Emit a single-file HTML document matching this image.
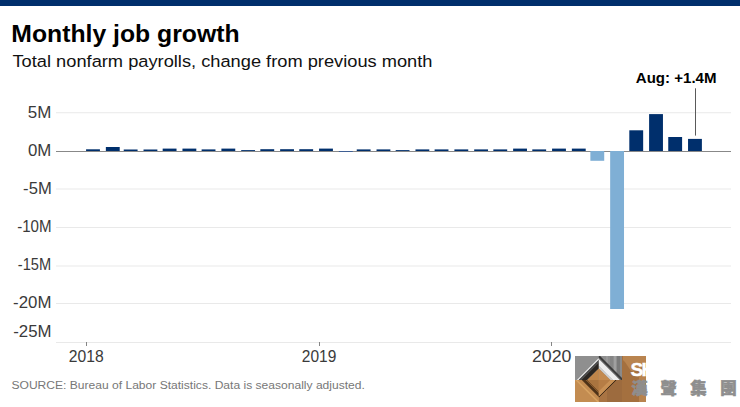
<!DOCTYPE html>
<html><head><meta charset="utf-8"><style>
html,body{margin:0;padding:0;background:#fff;}
body{width:740px;height:407px;overflow:hidden;position:relative;}
svg{position:absolute;left:0;top:0;}
.ax{font-family:"Liberation Sans",Arial,sans-serif;font-size:15.6px;fill:#3a3a3a;}
.ttl{font-family:"Liberation Sans",Arial,sans-serif;font-weight:bold;font-size:24px;fill:#000;}
.sub{font-family:"Liberation Sans",Arial,sans-serif;font-size:17.4px;fill:#111;}
.src{font-family:"Liberation Sans",Arial,sans-serif;font-size:11.7px;fill:#777;}
.ann{font-family:"Liberation Sans",Arial,sans-serif;font-weight:bold;font-size:14.2px;fill:#000;}
.cn{font-family:"Liberation Sans","Noto Sans CJK TC",sans-serif;font-weight:900;font-size:16.4px;fill:#8e8e8e;stroke:#8e8e8e;stroke-width:0.6px;}
</style></head><body>
<svg width="740" height="407" viewBox="0 0 740 407">
<rect x="0" y="0" width="740" height="6" fill="#002f6c"/>
<line x1="56" x2="731" y1="112.75" y2="112.75" stroke="#e9e9e9" stroke-width="1"/>
<line x1="56" x2="731" y1="189.0" y2="189.0" stroke="#e9e9e9" stroke-width="1"/>
<line x1="56" x2="731" y1="227.5" y2="227.5" stroke="#e9e9e9" stroke-width="1"/>
<line x1="56" x2="731" y1="266.0" y2="266.0" stroke="#e9e9e9" stroke-width="1"/>
<line x1="56" x2="731" y1="303.5" y2="303.5" stroke="#e9e9e9" stroke-width="1"/>
<line x1="56" x2="731" y1="342.5" y2="342.5" stroke="#e9e9e9" stroke-width="1"/>
<line x1="56" x2="731" y1="151.5" y2="151.5" stroke="#888" stroke-width="1"/>
<rect x="86.07" y="149.30" width="13.85" height="1.70" fill="#002f6c"/>
<rect x="105.86" y="147.00" width="13.85" height="4.00" fill="#002f6c"/>
<rect x="123.73" y="149.50" width="13.85" height="1.50" fill="#002f6c"/>
<rect x="143.52" y="149.50" width="13.85" height="1.50" fill="#002f6c"/>
<rect x="162.67" y="148.60" width="13.85" height="2.40" fill="#002f6c"/>
<rect x="182.46" y="148.60" width="13.85" height="2.40" fill="#002f6c"/>
<rect x="201.61" y="149.40" width="13.85" height="1.60" fill="#002f6c"/>
<rect x="221.40" y="148.60" width="13.85" height="2.40" fill="#002f6c"/>
<rect x="241.19" y="150.10" width="13.85" height="0.90" fill="#002f6c"/>
<rect x="260.34" y="149.20" width="13.85" height="1.80" fill="#002f6c"/>
<rect x="280.13" y="149.20" width="13.85" height="1.80" fill="#002f6c"/>
<rect x="299.28" y="149.20" width="13.85" height="1.80" fill="#002f6c"/>
<rect x="319.07" y="148.60" width="13.85" height="2.40" fill="#002f6c"/>
<rect x="338.86" y="151" width="13.85" height="1" fill="#3f5f93"/>
<rect x="356.73" y="149.40" width="13.85" height="1.60" fill="#002f6c"/>
<rect x="376.52" y="149.40" width="13.85" height="1.60" fill="#002f6c"/>
<rect x="395.67" y="150.10" width="13.85" height="0.90" fill="#002f6c"/>
<rect x="415.46" y="149.40" width="13.85" height="1.60" fill="#002f6c"/>
<rect x="434.61" y="149.40" width="13.85" height="1.60" fill="#002f6c"/>
<rect x="454.40" y="149.40" width="13.85" height="1.60" fill="#002f6c"/>
<rect x="474.19" y="149.40" width="13.85" height="1.60" fill="#002f6c"/>
<rect x="493.34" y="149.40" width="13.85" height="1.60" fill="#002f6c"/>
<rect x="513.13" y="148.60" width="13.85" height="2.40" fill="#002f6c"/>
<rect x="532.28" y="149.40" width="13.85" height="1.60" fill="#002f6c"/>
<rect x="552.07" y="148.60" width="13.85" height="2.40" fill="#002f6c"/>
<rect x="571.86" y="148.60" width="13.85" height="2.40" fill="#002f6c"/>
<rect x="590.37" y="151.00" width="13.85" height="9.80" fill="#7fafd5"/>
<rect x="610.16" y="151.00" width="13.85" height="158.00" fill="#7fafd5"/>
<rect x="629.31" y="130.30" width="13.85" height="20.70" fill="#002f6c"/>
<rect x="649.10" y="114.10" width="13.85" height="36.90" fill="#002f6c"/>
<rect x="668.25" y="137.00" width="13.85" height="14.00" fill="#002f6c"/>
<rect x="688.04" y="138.90" width="13.85" height="12.10" fill="#002f6c"/>
<line x1="86.5" x2="86.5" y1="342" y2="346" stroke="#858585" stroke-width="1"/>
<line x1="319.5" x2="319.5" y1="342" y2="346" stroke="#858585" stroke-width="1"/>
<line x1="551.5" x2="551.5" y1="342" y2="346" stroke="#858585" stroke-width="1"/>
<line x1="695.5" x2="695.5" y1="88.3" y2="135.6" stroke="#5a5a5a" stroke-width="1"/>
<text id="title" x="11.30" y="41.80" class="ttl" textLength="228.25" lengthAdjust="spacingAndGlyphs">Monthly job growth</text>
<text id="sub" x="12.50" y="67.20" class="sub" textLength="419.98" lengthAdjust="spacingAndGlyphs">Total nonfarm payrolls, change from previous month</text>
<text id="ann" x="635.81" y="83.30" class="ann" textLength="80.70" lengthAdjust="spacingAndGlyphs">Aug: +1.4M</text>
<text id="src" x="11.48" y="389.10" class="src" textLength="353.39" lengthAdjust="spacingAndGlyphs">SOURCE: Bureau of Labor Statistics. Data is seasonally adjusted.</text>
<text id="y5" x="27.88" y="117.60" class="ax" textLength="23.56" lengthAdjust="spacingAndGlyphs">5M</text>
<text id="y0" x="27.93" y="156.20" class="ax" textLength="23.37" lengthAdjust="spacingAndGlyphs">0M</text>
<text id="ym5" x="23.13" y="193.80" class="ax" textLength="28.60" lengthAdjust="spacingAndGlyphs">-5M</text>
<text id="ym10" x="17.19" y="231.90" class="ax" textLength="34.38" lengthAdjust="spacingAndGlyphs">-10M</text>
<text id="ym15" x="17.83" y="270.40" class="ax" textLength="33.32" lengthAdjust="spacingAndGlyphs">-15M</text>
<text id="ym20" x="13.08" y="308.30" class="ax" textLength="38.31" lengthAdjust="spacingAndGlyphs">-20M</text>
<text id="ym25" x="13.23" y="336.50" class="ax" textLength="38.34" lengthAdjust="spacingAndGlyphs">-25M</text>
<text id="x2018" x="68.83" y="362.00" class="ax" textLength="34.90" lengthAdjust="spacingAndGlyphs">2018</text>
<text id="x2019" x="301.85" y="362.00" class="ax" textLength="34.46" lengthAdjust="spacingAndGlyphs">2019</text>
<text id="x2020" x="531.92" y="362.00" class="ax" textLength="39.56" lengthAdjust="spacingAndGlyphs">2020</text>
<svg id="logo" x="575" y="356" width="71" height="46" viewBox="575 356 71 46" overflow="hidden">
<rect x="575" y="356" width="71" height="46" fill="#a4703f"/>
<polygon points="623,356 646,356 646,363 638,371 631,371 625,362 623,360" fill="#b9844f"/>
<rect x="639" y="375" width="7" height="27" fill="#b8834e"/>
<rect x="575" y="356" width="47" height="24" fill="#8f8f8f"/>
<rect x="606" y="356" width="2" height="24" fill="#9a9a9a"/>
<rect x="610" y="356" width="3" height="24" fill="#858585"/>
<rect x="614" y="356" width="2" height="24" fill="#a0a0a0"/>
<rect x="617" y="356" width="3" height="24" fill="#7a7a7a"/>
<rect x="620" y="356" width="2" height="24" fill="#8a8a8a"/>
<rect x="575" y="380" width="47" height="22" fill="#c38c51"/>
<rect x="599" y="380" width="23" height="22" fill="#a97443"/>
<rect x="607" y="380" width="15" height="22" fill="#9d6b3e"/>
<clipPath id="dclip"><rect x="575" y="356" width="47" height="46"/></clipPath><g clip-path="url(#dclip)">
<polygon points="576.90,380.00 598.80,358.10 598.80,359.80 578.60,380.00" fill="#f2f2f2"/>
<polygon points="578.60,380.00 598.80,359.80 598.80,362.50 581.30,380.00" fill="#4a4a4a"/>
<polygon points="581.30,380.00 598.80,362.50 598.80,368.40 587.20,380.00" fill="#2a2622"/>
<polygon points="624.10,380.00 598.80,354.70 598.80,357.50 621.30,380.00" fill="#3a3a3a"/>
<polygon points="621.30,380.00 598.80,357.50 598.80,359.00 619.80,380.00" fill="#5c5c5c"/>
<polygon points="619.80,380.00 598.80,359.00 598.80,366.00 612.80,380.00" fill="#eeeeee"/>
<polygon points="612.80,380.00 598.80,366.00 598.80,368.40 610.40,380.00" fill="#cfcfcf"/>
<polygon points="575.30,380.00 598.80,403.50 598.80,401.50 577.30,380.00" fill="#d9a463"/>
<polygon points="581.80,380.00 598.80,397.00 598.80,393.00 585.80,380.00" fill="#4e3218"/>
<polygon points="585.80,380.00 598.80,393.00 598.80,391.00 587.80,380.00" fill="#7a5027"/>
<polygon points="616.40,380.00 598.80,397.60 598.80,396.50 615.30,380.00" fill="#1c130b"/>
<polygon points="615.30,380.00 598.80,396.50 598.80,391.00 609.80,380.00" fill="#c99155"/>
<polygon points="587.20,380.00 598.80,368.40 598.80,380.00 598.80,380.00" fill="#bf8549"/>
<polygon points="610.40,380.00 598.80,368.40 598.80,380.00 598.80,380.00" fill="#c48a4e"/>
<polygon points="587.80,380.00 598.80,391.00 598.80,380.00 598.80,380.00" fill="#a9743f"/>
<polygon points="609.80,380.00 598.80,391.00 598.80,380.00 598.80,380.00" fill="#b67d45"/>
</g>
<text x="630.6" y="375.7" style="font-family:'Liberation Sans',sans-serif;font-weight:bold;font-size:19px;fill:#fff;letter-spacing:-1.8px" stroke="#fff" stroke-width="0.4">SH</text>
</svg>
<text id="c1" x="631.2" y="394.2" class="cn">漢</text>
<text id="c2" x="660.5" y="394.2" class="cn">聲</text>
<text id="c3" x="690.3" y="394.2" class="cn">集</text>
<text id="c4" x="720.2" y="394.2" class="cn">團</text>

</svg>
</body></html>
